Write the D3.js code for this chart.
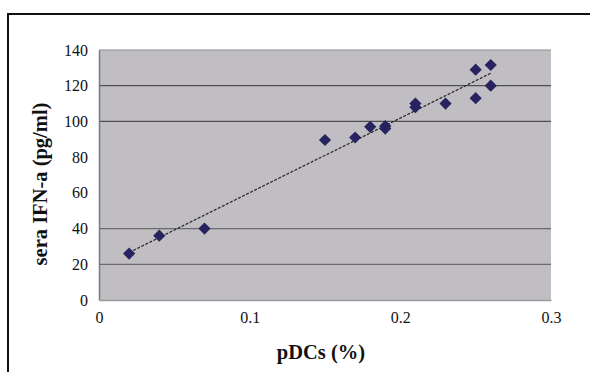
<!DOCTYPE html>
<meta charset="utf-8">
<title>pDCs vs sera IFN-a</title>
<style>
body { margin: 0; background: #fff; }
svg { display: block; }
.title { font-family: "Liberation Serif", "Times New Roman", serif; font-size: 20.5px; font-weight: bold; fill: #111; }
</style>
<script src="https://d3js.org/d3.v7.min.js"></script>
<body>
<script>
var width = 590, height = 372;

// pDCs (%) and sera IFN-a (pg/ml)
var pdcs = [0.02, 0.04, 0.07, 0.15, 0.17, 0.18, 0.19, 0.19, 0.21, 0.21, 0.23, 0.25, 0.25, 0.26, 0.26];
var ifn  = [26, 36, 40, 89.6, 91, 97, 97.4, 96, 108, 110, 110, 113, 129, 131.6, 120];
var xTicks = [0, 0.1, 0.2, 0.3];
var yTicks = [0, 20, 40, 60, 80, 100, 120, 140];
var gridValues = [20, 40, 100, 120];

var svg = d3.select("body").append("svg")
    .attr("width", width)
    .attr("height", height);

// outer frame, runs past the right and bottom edges
svg.append("rect")
    .attr("x", 8).attr("y", 14)
    .attr("width", 600).attr("height", 400)
    .attr("fill", "none")
    .attr("stroke", "#111")
    .attr("stroke-width", 2);

var x = d3.scaleLinear().domain([0, 0.3]).range([99, 551]);
var y = d3.scaleLinear().domain([0, 140]).range([300, 50]);

// plot area
svg.append("rect")
    .attr("x", x(0)).attr("y", y(140))
    .attr("width", x(0.3) - x(0)).attr("height", y(0) - y(140))
    .attr("fill", "#c1bec3");

svg.append("g").selectAll("line")
    .data(gridValues)
  .enter().append("line")
    .attr("x1", x(0)).attr("x2", x(0.3))
    .attr("y1", y).attr("y2", y)
    .attr("stroke", function(d) { return d > 60 ? "#4f4f4f" : "#6a6a6a"; })
    .attr("stroke-width", 1.3);

// top edge of plot
svg.append("line")
    .attr("x1", x(0)).attr("x2", x(0.3))
    .attr("y1", y(140)).attr("y2", y(140))
    .attr("stroke", "#8c8c8c").attr("stroke-width", 1);

var yAxis = svg.append("g")
    .attr("transform", "translate(" + x(0) + ",0)")
    .call(d3.axisLeft(y).tickValues(yTicks).tickSize(0).tickPadding(11).tickFormat(d3.format("d")));
yAxis.select(".domain").attr("stroke", "#7a7a7a").attr("stroke-width", 1.5);

var xAxis = svg.append("g")
    .attr("transform", "translate(0," + y(0) + ")")
    .call(d3.axisBottom(x).tickValues(xTicks).tickSize(0).tickPadding(12).tickFormat(function(d) { return d === 0 ? "0" : d3.format(".1f")(d); }));
xAxis.select(".domain").attr("stroke", "#9a9a9a").attr("stroke-width", 1.5);

[yAxis, xAxis].forEach(function(a) {
  a.attr("font-family", "'Liberation Serif', 'Times New Roman', serif").attr("font-size", 16);
  a.selectAll(".tick text").attr("fill", "#111");
});

// least squares trend line
var mx = d3.mean(pdcs), my = d3.mean(ifn);
var sxy = d3.sum(pdcs, function(d, i) { return (d - mx) * (ifn[i] - my); });
var sxx = d3.sum(pdcs, function(d) { return (d - mx) * (d - mx); });
var slope = sxy / sxx, icpt = my - slope * mx;
var x0 = d3.min(pdcs), x1 = d3.max(pdcs);

svg.append("line")
    .attr("x1", x(x0)).attr("y1", y(icpt + slope * x0))
    .attr("x2", x(x1)).attr("y2", y(icpt + slope * x1))
    .attr("stroke", "#2a2a2a")
    .attr("stroke-width", 1.3)
    .attr("stroke-dasharray", "3,1.5");

var diamond = d3.symbol().type(d3.symbolDiamond2).size(95);
svg.append("g").selectAll("path")
    .data(pdcs)
  .enter().append("path")
    .attr("transform", function(d, i) { return "translate(" + x(d) + "," + y(ifn[i]) + ")"; })
    .attr("d", diamond)
    .attr("fill", "#272360");

svg.append("text")
    .attr("class", "title")
    .attr("text-anchor", "middle")
    .attr("transform", "translate(47,184) rotate(-90)")
    .text("sera IFN-a (pg/ml)");

svg.append("text")
    .attr("class", "title")
    .attr("text-anchor", "middle")
    .attr("x", 321).attr("y", 359)
    .text("pDCs (%)");
</script>
</body>
